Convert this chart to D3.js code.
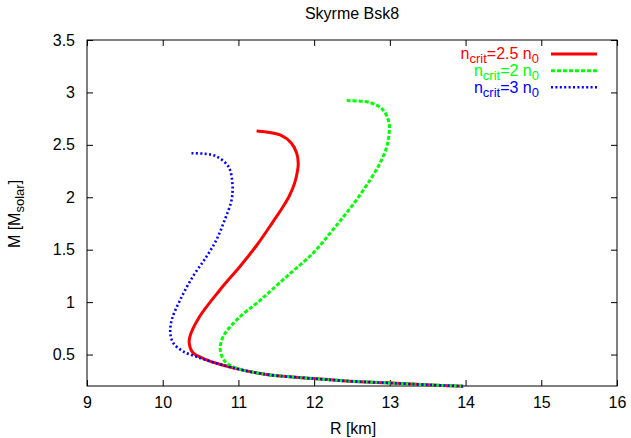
<!DOCTYPE html>
<html>
<head>
<meta charset="utf-8">
<script src="https://cdn.jsdelivr.net/npm/d3@7"></script>
<style>
  html, body { margin: 0; padding: 0; background: #fff; }
  svg { display: block; font-family: "Liberation Sans", Arial, sans-serif; }
</style>
</head>
<body>
<svg id="chart" width="631" height="438"></svg>
<script>
// ---- data ----
const xTicks = [9, 10, 11, 12, 13, 14, 15, 16];
const yTicks = [0.5, 1, 1.5, 2, 2.5, 3, 3.5];
const titleText = "Skyrme Bsk8";

const redR = [11.24, 11.55, 11.70, 11.77, 11.79, 11.78, 11.74, 11.67, 11.58, 11.46, 11.24, 11.02, 10.76, 10.49, 10.36, 10.35, 10.40, 10.58, 10.93, 11.37, 11.99, 12.47, 12.96, 13.49, 13.97];
const redM = [2.633, 2.595, 2.516, 2.42, 2.326, 2.25, 2.13, 2.01, 1.90, 1.77, 1.54, 1.34, 1.12, 0.865, 0.674, 0.61, 0.516, 0.45, 0.373, 0.31, 0.271, 0.246, 0.23, 0.211, 0.198];

const greenR = [12.43, 12.74, 12.91, 12.99, 12.99, 12.96, 12.87, 12.74, 12.56, 12.39, 12.21, 11.99, 11.64, 11.29, 10.98, 10.80, 10.76, 10.82, 10.98, 11.37, 11.99, 12.47, 12.96, 13.49, 13.97];
const greenM = [2.922, 2.903, 2.833, 2.706, 2.611, 2.484, 2.326, 2.167, 1.976, 1.817, 1.657, 1.47, 1.246, 1.02, 0.833, 0.674, 0.548, 0.436, 0.37, 0.31, 0.271, 0.246, 0.23, 0.211, 0.198];

const blueR = [10.38, 10.55, 10.71, 10.87, 10.92, 10.91, 10.82, 10.71, 10.58, 10.40, 10.23, 10.12, 10.10, 10.14, 10.27, 10.45, 10.65, 10.93, 11.37, 11.99, 12.47, 12.96, 13.49, 13.97];
const blueM = [2.42, 2.415, 2.39, 2.29, 2.135, 1.976, 1.786, 1.595, 1.436, 1.246, 1.02, 0.833, 0.707, 0.61, 0.53, 0.478, 0.43, 0.373, 0.31, 0.271, 0.246, 0.23, 0.211, 0.198];

const seriesNames = ["2.5", "2", "3"];
const seriesColors = ["#ff0000", "#00ff00", "#0000ff"];

// ---- layout ----
const pL = 87, pR = 617, pT = 40, pB = 386;
const FS = 16, SUB = 13;
const svg = d3.select("#chart");
const x = d3.scaleLinear().domain([9, 16]).range([pL, pR]);
const y = d3.scaleLinear().domain([0.2, 3.5]).range([pB, pT]);

// frame
svg.append("rect").attr("x", pL).attr("y", pT)
  .attr("width", pR - pL).attr("height", pB - pT)
  .attr("fill", "none").attr("stroke", "#000").attr("stroke-width", 1);

// axes with inward ticks
const tl = 6;
const fmt = d => String(d);
const gB = svg.append("g").attr("transform", `translate(0,${pB})`)
  .call(d3.axisBottom(x).tickValues(xTicks).tickFormat(fmt).tickSizeInner(-tl).tickSizeOuter(0).tickPadding(10.5));
const gT = svg.append("g").attr("transform", `translate(0,${pT})`)
  .call(d3.axisTop(x).tickValues(xTicks).tickFormat("").tickSizeInner(-tl).tickSizeOuter(0));
const gL = svg.append("g").attr("transform", `translate(${pL},0)`)
  .call(d3.axisLeft(y).tickValues(yTicks).tickFormat(fmt).tickSizeInner(-tl).tickSizeOuter(0).tickPadding(12));
const gR = svg.append("g").attr("transform", `translate(${pR},0)`)
  .call(d3.axisRight(y).tickValues(yTicks).tickFormat("").tickSizeInner(-tl).tickSizeOuter(0));
[gB, gT, gL, gR].forEach(g => {
  g.select(".domain").remove();
  g.selectAll("text").attr("font-size", FS).attr("fill", "#000")
    .attr("font-family", "'Liberation Sans', Arial, sans-serif");
  g.selectAll("line").attr("stroke", "#000");
});

// curves
const line = d3.line().x(d => x(d[0])).y(d => y(d[1])).curve(d3.curveCatmullRom.alpha(0.5));
const data = [
  d3.zip(redR, redM),
  d3.zip(greenR, greenM),
  d3.zip(blueR, blueM)
];
const dashes = [null, "4,2", "2,2.4"];
const widths = [3, 3, 2.6];
data.forEach((pts, i) => {
  svg.append("path").datum(pts).attr("d", line)
    .attr("fill", "none").attr("stroke", seriesColors[i])
    .attr("stroke-width", widths[i])
    .attr("stroke-dasharray", dashes[i]);
});

// title and axis labels
svg.append("text").attr("x", 352).attr("y", 19).attr("text-anchor", "middle")
  .attr("font-size", FS).text(titleText);
svg.append("text").attr("x", 353).attr("y", 434).attr("text-anchor", "middle")
  .attr("font-size", FS).text("R [km]");
const yl = svg.append("text").attr("transform", "translate(20,214) rotate(-90)")
  .attr("text-anchor", "middle").attr("font-size", FS);
yl.append("tspan").text("M [M");
yl.append("tspan").attr("font-size", SUB).attr("dy", 4).text("solar");
yl.append("tspan").attr("dy", -4).text("]");

// legend
const legY = [54, 70.7, 87.3];
seriesNames.forEach((nm, i) => {
  const t = svg.append("text").attr("x", 539).attr("y", legY[i] + 5.3)
    .attr("text-anchor", "end").attr("font-size", FS).attr("fill", seriesColors[i]);
  t.append("tspan").text("n");
  t.append("tspan").attr("font-size", SUB).attr("dy", 4).text("crit");
  t.append("tspan").attr("dy", -4).text("=" + nm + " n");
  t.append("tspan").attr("font-size", SUB).attr("dy", 4).text("0");
  svg.append("line").attr("x1", 551).attr("x2", 597)
    .attr("y1", legY[i]).attr("y2", legY[i])
    .attr("stroke", seriesColors[i]).attr("stroke-width", widths[i])
    .attr("stroke-dasharray", dashes[i]);
});
</script>
</body>
</html>
